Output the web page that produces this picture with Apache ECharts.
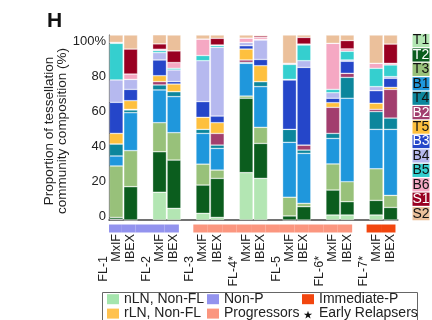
<!DOCTYPE html>
<html>
<head>
<meta charset="utf-8">
<script src="https://cdn.jsdelivr.net/npm/echarts@6/dist/echarts.min.js"></script>
<style>
  html, body { margin: 0; padding: 0; background: #fff; }
  #main { width: 432px; height: 320px; }
</style>
</head>
<body>
<div id="main"></div>
<script>
// patients, in plot order; each has an MxIF and an IBEX bar
const patients = ['FL-1', 'FL-2', 'FL-3', 'FL-4', 'FL-5', 'FL-6', 'FL-7'];
const earlyRelapse = [false, false, false, true, false, true, true];
const patientGroup = ['Non-P', 'Non-P', 'Progressors', 'Progressors', 'Progressors', 'Progressors', 'Immediate-P'];
const methods = ['MxIF', 'IBEX'];

// tessellation communities, bottom of stack first
const communities = ['T1', 'T2', 'T3', 'B1', 'T4', 'B2', 'T5', 'B3', 'B4', 'B5', 'B6', 'S1', 'S2'];

// % per bar: FL-1 MxIF, FL-1 IBEX, FL-2 MxIF, ... FL-7 IBEX
const T1 = [0.4, 0, 15.0, 6.3, 3.6, 1.4, 25.6, 22.5, 0, 0, 2.7, 2.7, 2.7, 0];
const T2 = [1.0, 18.0, 21.9, 26.1, 15.3, 21.1, 40.2, 18.9, 2.2, 7.2, 13.5, 7.2, 7.9, 6.8];
const T3 = [27.8, 19.5, 15.7, 14.8, 11.3, 4.5, 1.2, 8.7, 10.1, 1.8, 14.1, 10.8, 17.1, 6.5];
const B1 = [5.4, 20.5, 17.7, 19.5, 16.6, 11.7, 17.7, 22.0, 29.7, 27.0, 13.8, 45.1, 21.3, 35.7];
const T4 = [6.5, 1.5, 2.7, 2.7, 2.2, 1.8, 0.5, 2.7, 7.0, 1.8, 2.7, 11.3, 9.6, 6.1];
const B2 = [0, 0.3, 1.8, 0, 0, 6.3, 1.3, 0, 0, 2.7, 14.1, 2.2, 1.2, 15.5];
const T5 = [5.7, 4.7, 3.2, 4.1, 6.5, 5.8, 5.9, 8.6, 0, 0, 2.5, 0, 3.3, 1.1];
const B3 = [16.8, 6.1, 8.5, 1.3, 8.5, 3.6, 1.8, 3.4, 26.7, 42.0, 2.4, 6.5, 6.8, 4.9];
const B4 = [12.1, 5.4, 4.0, 6.3, 22.1, 37.1, 1.8, 10.5, 0.3, 3.6, 3.0, 0.7, 2.2, 0.9];
const B5 = [19.8, 0, 1.1, 0.9, 2.8, 1.0, 0, 0.3, 8.1, 8.5, 1.8, 4.7, 9.9, 6.3];
const B6 = [0.5, 2.9, 0.7, 3.1, 8.9, 0.3, 2.3, 1.1, 0.6, 0.5, 24.9, 1.3, 2.7, 0.9];
const S1 = [0, 13.5, 2.9, 6.3, 0, 3.6, 0, 0.8, 0, 3.6, 0, 4.5, 0, 10.4];
const S2 = [4.0, 7.6, 4.9, 8.6, 2.2, 1.8, 1.7, 0.5, 15.3, 1.3, 4.5, 3.0, 15.3, 4.9];
const communityValues = [T1, T2, T3, B1, T4, B2, T5, B3, B4, B5, B6, S1, S2];

const yTicks = [0, 20, 40, 60, 80, 100];

const colors = ['#b3e6b3', '#0b5d1e', '#98c17a', '#1f97dc', '#0c869c', '#a23e6e', '#fec03e',
  '#2546c9', '#b6b9ef', '#35cfcf', '#f5a8c3', '#990022', '#ebc09b'];
const lightText = ['T2', 'B2', 'B3', 'S1'];
const groupColors = { 'Non-P': '#9393ee', 'Progressors': '#fb967f', 'Immediate-P': '#f2460f' };
const font = 'Liberation Sans, Arial, sans-serif';

// slots on the x axis: MxIF, IBEX, then an empty slot between patients
const slots = [];
patients.forEach((p, k) => {
  methods.forEach((m, j) => slots.push({ key: p + '|' + m, patient: k, bar: k * 2 + j, method: m }));
  if (k < patients.length - 1) slots.push({ key: 'gap' + k, patient: k, bar: -1, gap: true });
});
const slotKeys = slots.map(s => s.key);

const barSeries = communities.map((c, i) => ({
  name: c,
  type: 'bar',
  stack: 'comp',
  xAxisIndex: 0,
  yAxisIndex: 0,
  barWidth: 13.8,
  itemStyle: { color: colors[i], borderColor: 'rgba(255,255,255,0.55)', borderWidth: 0.6 },
  data: slots.map(s => s.bar < 0 ? '-' : communityValues[i][s.bar])
}));

// group band under the axis
const slotGroup = slots.map(s => {
  if (!s.gap) return patientGroup[s.patient];
  return patientGroup[s.patient] === patientGroup[s.patient + 1] ? patientGroup[s.patient] : null;
});
const bandSeries = Object.keys(groupColors).map(g => ({
  name: g,
  type: 'bar',
  stack: 'band',
  xAxisIndex: 1,
  yAxisIndex: 2,
  barWidth: '100%',
  itemStyle: { color: groupColors[g] },
  data: slotGroup.map(x => x === g ? 1 : '-')
}));
const dummySeries = [
  { name: 'nLN, Non-FL', color: '#a5e5ad' },
  { name: 'rLN, Non-FL', color: '#ffc24f' },
  { name: 'Early Relapsers', color: '#111' }
].map(d => ({ name: d.name, type: 'bar', xAxisIndex: 1, yAxisIndex: 2, itemStyle: { color: d.color }, data: [] }));

const starIcon = 'path://M0,0M100,0M50,22L60,52L92,52L66,70L76,100L50,82L24,100L34,70L8,52L40,52Z';

function legendBlock(left, names) {
  return {
    orient: 'vertical', left: left, top: 292, height: 60, padding: 0, itemGap: 0,
    itemWidth: 12, itemHeight: 10, selectedMode: false,
    textStyle: { fontSize: 14, lineHeight: 14.4, color: '#222', fontFamily: font },
    data: names.map(n => n === 'Early Relapsers' ? { name: n, icon: starIcon } : { name: n, icon: 'rect' })
  };
}

const graphics = [
  {
    type: 'text', x: 56, y: 131, rotation: Math.PI / 2,
    style: {
      text: 'Proportion of tessellation\ncommunity composition (%)',
      fontSize: 13.5, lineHeight: 12.5, fontFamily: font, fill: '#222',
      align: 'center', verticalAlign: 'middle'
    }
  },
  {
    type: 'rect', shape: { x: 102.5, y: 292.5, width: 315, height: 40 },
    style: { fill: 'none', stroke: '#666', lineWidth: 1 }
  }
];
communities.forEach((c, i) => {
  const cy = 40.5 + i * 14.43;
  graphics.push({ type: 'rect', shape: { x: 412.5, y: cy - 6.6, width: 17, height: 13.2 }, style: { fill: colors[i] } });
  graphics.push({
    type: 'text', x: 421, y: cy,
    style: { text: c, fontSize: 14, fontFamily: font, fill: lightText.includes(c) ? '#fff' : '#111', align: 'center', verticalAlign: 'middle' }
  });
});

const chart = echarts.init(document.getElementById('main'));
chart.setOption({
  animation: false,
  textStyle: { fontFamily: font },
  title: { text: 'H', left: 47, top: 11, padding: 0, textStyle: { fontSize: 21, fontWeight: 'bold', color: '#111', fontFamily: font } },
  legend: [
    legendBlock(107, ['nLN, Non-FL', 'rLN, Non-FL']),
    legendBlock(207, ['Non-P', 'Progressors']),
    legendBlock(302, ['Immediate-P', 'Early Relapsers'])
  ],
  grid: [
    { left: 109, top: 35, width: 288.8, height: 185 },
    { left: 109, top: 224.5, width: 288.8, height: 8 }
  ],
  xAxis: [
    {
      type: 'category', gridIndex: 0, data: slotKeys,
      axisLine: { lineStyle: { color: '#444', width: 1.5 } },
      axisTick: { show: false },
      axisLabel: {
        interval: 0, rotate: 90, margin: 14, color: '#222', fontSize: 12,
        formatter: function (v) {
          const s = slots[slotKeys.indexOf(v)];
          if (s.gap) return '';
          if (s.method === 'IBEX') return '{m|IBEX}';
          const name = patients[s.patient] + (earlyRelapse[s.patient] ? '*' : '');
          return '{fl|' + name + '}{pad| }\n{m|MxIF}\n{m| }';
        },
        rich: {
          fl: { fontSize: 12.5, lineHeight: 13, color: '#222' },
          pad: { width: 22, lineHeight: 13 },
          m: { fontSize: 12.5, lineHeight: 13, color: '#222' }
        }
      }
    },
    {
      type: 'category', gridIndex: 1, data: slotKeys, show: false
    }
  ],
  yAxis: [
    {
      type: 'value', gridIndex: 0, min: 0, max: 100,
      axisLine: { show: true, lineStyle: { color: '#444', width: 1.2 } },
      axisTick: { show: false }, axisLabel: { show: false }, splitLine: { show: false }
    },
    {
      type: 'value', gridIndex: 0, min: -2.29, max: 103.43, position: 'left',
      axisLine: { show: false }, axisTick: { show: false }, splitLine: { show: false },
      axisLabel: {
        customValues: yTicks, margin: 3, fontSize: 13, color: '#222',
        formatter: v => v === 100 ? '100%' : String(v)
      }
    },
    { type: 'value', gridIndex: 1, min: 0, max: 1, show: false }
  ],
  graphic: graphics,
  series: barSeries.concat(bandSeries, dummySeries)
});
</script>
</body>
</html>
